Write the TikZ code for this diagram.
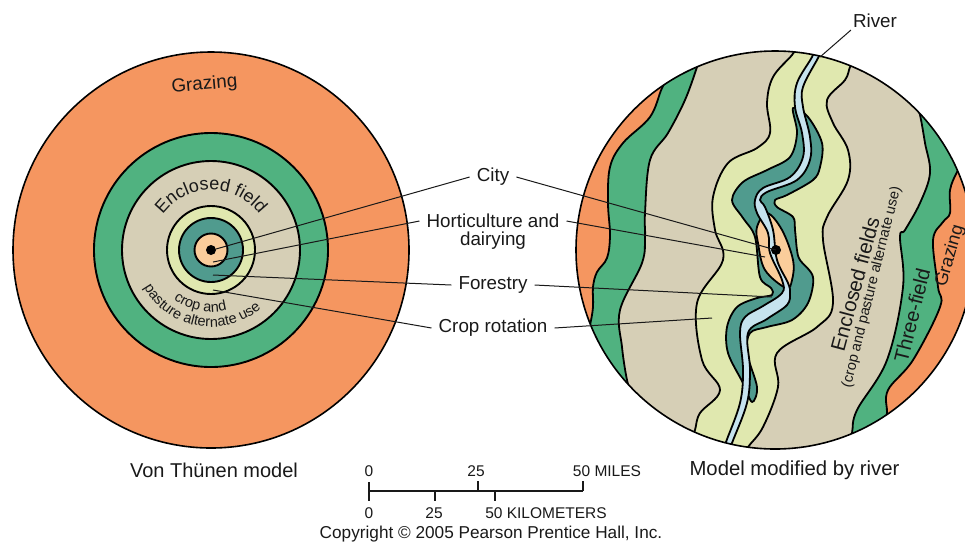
\documentclass[tikz,border=0pt]{standalone}
\usepackage{fontspec}
\setmainfont{Liberation Sans}
\usetikzlibrary{decorations.text}
\definecolor{cOrange}{RGB}{245,150,96}
\definecolor{cGreen}{RGB}{80,178,128}
\definecolor{cTan}{RGB}{214,207,182}
\definecolor{cLight}{RGB}{224,232,175}
\definecolor{cTeal}{RGB}{80,155,142}
\definecolor{cPale}{RGB}{250,205,155}
\definecolor{cRiver}{RGB}{198,227,238}
\definecolor{cInk}{RGB}{25,25,25}
\newcommand{\fs}[1]{\fontsize{#1}{#1}\selectfont}
\tikzset{
  zone/.style={draw=black,line width=1.8pt,line join=round},
  ring/.style={draw=black,line width=1.9pt},
  leader/.style={draw=cInk,line width=1pt},
  lab/.style={text=cInk,font=\fs{18.8},inner sep=2pt},
  callout/.style={lab,inner xsep=7pt},
  tick/.style={draw=cInk,line width=1.2pt},
  scalelab/.style={text=cInk,font=\fs{15.5},inner sep=0pt},
}
\begin{document}
\begin{tikzpicture}[x=1pt,y=-1pt]
\useasboundingbox (0,0) rectangle (965,542);
% left model
\coordinate (LC) at (211,250);
\clip (0,0) rectangle (965,542);
\fill[cOrange] (LC) circle[radius=198pt];
\draw[line width=1.6pt,draw=black] (LC) circle[radius=198pt];
\draw[ring,fill=cGreen] (LC) circle[radius=117pt];
\draw[ring,fill=cTan] (LC) circle[radius=89pt];
\draw[ring,fill=cLight] (LC) circle[radius=44pt];
\draw[ring,fill=cTeal] (LC) circle[radius=32pt];
\draw[ring,fill=cPale] (LC) circle[radius=16.5pt];
\node[circle,fill=black,minimum size=10pt,inner sep=0pt] (dotL) at (LC) {};
% right model
\coordinate (RC) at (775,250);
\begin{scope}
\clip (RC) circle[radius=199pt];
\fill[cOrange] (RC) circle[radius=199pt];
\draw[zone,fill=cGreen] plot[smooth,tension=0.6] coordinates {(672,70)(662,88)(650,117)(623,143)(610,167)(608,203)(610,235)(607,258)(597,272)(593,287)(593,307)(590,325)(586,338)(570,350)} -- (570,520) -- (1000,520) -- (1000,0) -- (672,0) -- cycle;
\draw[zone,fill=cTan] plot[smooth,tension=0.6] coordinates {(702,50)(697,67)(685,100)(668,133)(650,160)(645,213)(645,237)(642,263)(620,310)(622,347)(627,380)(632,395)} -- (570,520) -- (1000,520) -- (1000,0) -- (702,0) -- cycle;
\draw[zone,fill=cLight] plot[smooth,tension=0.6] coordinates {(798,45)(792,55)(773,77)(767,103)(770,133)(757,148)(728,163)(713,197)(715,230)(723,260)(697,303)(702,360)(720,390)(700,413)(695,430)(690,445)} -- (690,520) -- (1000,520) -- (1000,0) -- (798,0) -- cycle;
\draw[zone,fill=cTan] plot[smooth,tension=0.6] coordinates {(856,55)(850,67)(845,80)(827,100)(833,123)(848,150)(848,180)(827,217)(823,240)(833,303)(817,327)(777,353)(778,387)(763,427)(748,447)(740,460)} -- (740,520) -- (1000,520) -- (1000,0) -- (856,0) -- cycle;
\draw[zone,fill=cGreen] plot[smooth,tension=0.6] coordinates {(915,100)(920,115)(925,143)(930,173)(920,203)(905,230)(900,237)(903,287)(887,360)(857,410)(852,433)(848,450)} -- (848,520) -- (1000,520) -- (1000,0) -- (915,0) -- cycle;
\draw[zone,fill=cOrange] plot[smooth,tension=0.6] coordinates {(965,160)(957,172)(950,190)(950,213)(943,222)(933,240)(938,287)(940,307)(913,360)(888,390)(887,413)(884,425)} -- (884,520) -- (1000,520) -- (1000,100) -- (965,100) -- cycle;
% teal band
\draw[zone,fill=cTeal] plot[smooth cycle,tension=0.55] coordinates {(793,108)(808,117)(822,143)(820,167)(813,180)(787,195)(775,200)(777,207)(793,217)(795,230)(797,250)(800,260)(813,277)(808,303)(792,320)(767,327)(750,333)(747,353)(757,387)(752,402)(743,383)(728,353)(727,327)(737,307)(757,298)(772,295)(771,288)(760,277)(755,237)(743,218)(732,200)(743,182)(767,170)(790,157)(797,133)};
% city zone
\draw[zone,fill=cPale] plot[smooth cycle,tension=0.6] coordinates {(767,213)(782,230)(793,260)(792,280)(786,288)(765,270)(758,243)(757,227)};
% river
\draw[zone,fill=cRiver] plot[smooth,tension=0.6] coordinates {(816,46)(812,57)(797,83)(795,107)(802,133)(803,157)(790,177)(763,188)(755,200)(757,213)(768,233)(770,253)(782,280)(782,293)(763,306)(745,317)(740,333)(743,370)(740,403)(726,442)(722,455)} -- plot[smooth,tension=0.6] coordinates {(728,455)(732,443)(747,403)(750,370)(748,333)(767,319)(787,305)(790,293)(788,283)(777,260)(773,230)(765,207)(760,200)(767,192)(797,180)(810,160)(810,137)(803,107)(803,87)(818,58)(824,46)} -- cycle;
\end{scope}
\draw[line width=1.6pt,draw=black] (RC) circle[radius=199pt];
\node[circle,fill=black,minimum size=10pt,inner sep=0pt] (dotR) at (776,250) {};
% curved text
\path[postaction={decorate,decoration={text along path,text align=center,text={|\fs{18}\color{cInk}|Enclosed field}}}]
  ([shift={(170:60pt)}]LC) arc[start angle=170,end angle=10,radius=60pt];
\path[postaction={decorate,decoration={text along path,text align=center,text={|\fs{14.5}\color{cInk}|crop and}}}]
  ([shift={(205:62pt)}]LC) arc[start angle=205,end angle=313,radius=62pt];
\path[postaction={decorate,decoration={text along path,text align=center,text={|\fs{14.5}\color{cInk}|pasture alternate use}}}]
  ([shift={(190:77pt)}]LC) arc[start angle=190,end angle=330,radius=77pt];
% texts
\node[lab,rotate=5] (grazL) at (204.5,85) {Grazing};
\node[lab,rotate=75,font=\fs{20.5}] (encl) at (855,284) {Enclosed fields};
\node[lab,rotate=76,font=\fs{14.5}] (enclsub) at (872,287) {(crop and pasture alternate use)};
\node[lab,rotate=76,font=\fs{20}] (three) at (912,315) {Three-field};
\node[lab,rotate=74,font=\fs{18.2}] (grazR) at (950,256) {Grazing};
\node[lab] (river) at (875,21) {River};
\node[callout] (city) at (493,177) {City};
\node[callout] (hort) at (493,221) {Horticulture and};
\node[lab] (dairy) at (493,241) {dairying};
\node[callout] (fore) at (493,285) {Forestry};
\node[callout] (crop) at (493,328) {Crop rotation};
\node[lab,font=\fs{20}] (vt) at (214,470) {Von Thünen model};
\node[lab,font=\fs{20.3}] (mm) at (794.5,470) {Model modified by river};
% leaders
\coordinate (cityL) at (216,249);
\coordinate (cityR) at (776,250);
\coordinate (hortL) at (213,262);
\coordinate (hortR) at (765,257);
\coordinate (foreL) at (213,275);
\coordinate (foreR) at (772,297);
\coordinate (cropL) at (213,290);
\coordinate (cropR) at (712,318);
\coordinate (riverE) at (820,57);
\draw[leader] (city.west) -- (cityL);
\draw[leader] (city.east) -- (cityR);
\draw[leader] (hort.west) -- (hortL);
\draw[leader] (hort.east) -- (hortR);
\draw[leader] (fore.west) -- (foreL);
\draw[leader] (fore.east) -- (foreR);
\draw[leader] (crop.west) -- (cropL);
\draw[leader] (crop.east) -- (cropR);
\draw[leader] (river.south west) -- (riverE);
% scale bar
\coordinate (s0) at (369,491);
\coordinate (s1) at (583,491);
\draw[tick,line width=1.4pt] (s0) -- (s1);
\draw[tick] (369,482) -- (369,501);
\draw[tick] (478,481) -- (478,491);
\draw[tick] (583,481) -- (583,491);
\draw[tick] (435,491) -- (435,501);
\draw[tick] (495,491) -- (495,501);
\node[scalelab] (m0) at (369,471) {0};
\node[scalelab] (m25) at (476,471) {25};
\node[scalelab] (m50) at (607,471) {50 MILES};
\node[scalelab] (k0) at (369,513) {0};
\node[scalelab] (k25) at (434,513) {25};
\node[scalelab] (k50) at (546,513) {50 KILOMETERS};
\node[scalelab,font=\fs{17.2}] (copy) at (491,534) {Copyright © 2005 Pearson Prentice Hall, Inc.};
\end{tikzpicture}
\end{document}
